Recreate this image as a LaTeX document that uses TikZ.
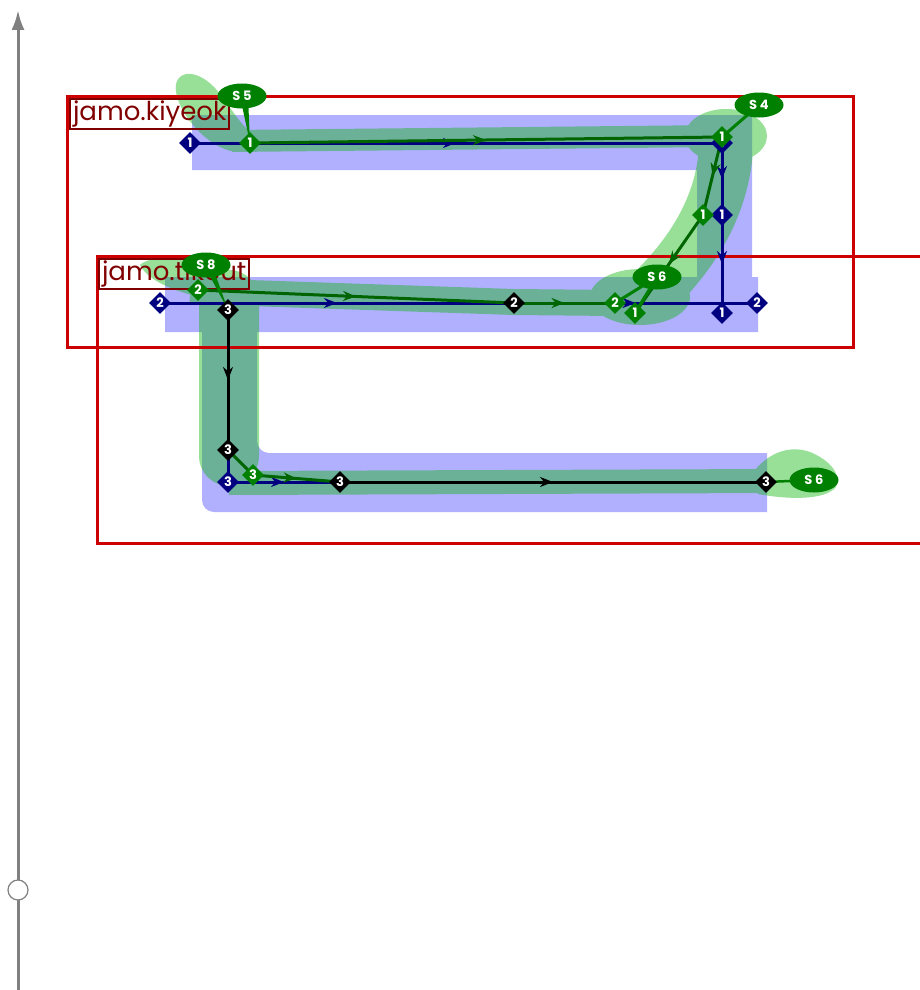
\documentclass[tikz,border=0pt]{standalone}
\usepackage{fontspec}
\setmainfont{Poppins}
\usetikzlibrary{arrows.meta,decorations.markings,shapes.geometric}
\definecolor{bandblue}{RGB}{176,176,255}
\definecolor{bandgreen}{RGB}{10,180,10}
\definecolor{navy}{RGB}{0,0,128}
\definecolor{lgreen}{RGB}{0,100,0}
\definecolor{sgreen}{RGB}{0,128,0}
\definecolor{boxred}{RGB}{204,0,0}
\definecolor{labred}{RGB}{128,0,0}
\definecolor{axisgray}{RGB}{128,128,128}
\pgfdeclarelayer{bands}
\pgfdeclarelayer{lines}
\pgfsetlayers{bands,lines,main}
\tikzset{
  dia/.style={diamond, aspect=1, minimum size=22pt, inner sep=0pt, text=white,
    font=\fontsize{13}{13}\selectfont\bfseries},
  bdia/.style={dia, fill=navy},
  gdia/.style={dia, fill=sgreen},
  kdia/.style={dia, fill=black},
  slab/.style={ellipse, fill=sgreen, minimum width=49pt, minimum height=25pt,
    inner sep=0pt, text=white, font=\fontsize{13}{13}\selectfont\bfseries},
  labbox/.style={draw=labred, line width=2pt, text=labred, anchor=north west,
    minimum height=30pt, inner xsep=3pt, inner ysep=0pt,
    font=\fontsize{26}{26}\selectfont},
  regbox/.style={draw=boxred, line width=3pt},
  conn/.style={line width=3pt},
  midarrow/.style={postaction={decorate}, decoration={markings,
    mark=at position 0.5 with {\arrow{Stealth[length=13pt,width=10pt]}}}},
}
\begin{document}
\begin{tikzpicture}[x=1pt,y=-1pt]
\useasboundingbox (0,0) rectangle (920,990);

% ---- nodes ----
\node[bdia] (b1a) at (190,143) {1};
\node[bdia] (b1b) at (722,143) {1};
\node[gdia] (g1a) at (250,143) {1};
\node[gdia] (g1b) at (722,137) {1};
\node[bdia] (b1c) at (722,215) {1};
\node[gdia] (g1c) at (703,215) {1};
\node[bdia] (b1d) at (722,313) {1};
\node[bdia] (b2b) at (757,303) {2};
\node[gdia] (g1d) at (635,313) {1};
\node[gdia] (g2b) at (615,303) {2};
\node[kdia] (k2) at (514,303) {2};
\node[bdia] (b2a) at (160,303) {2};
\node[gdia] (g2a) at (198,290) {2};
\node[kdia] (k3a) at (228,310) {3};
\node[bdia] (b3) at (228,482) {3};
\node[kdia] (k3b) at (228,450) {3};
\node[gdia] (g3) at (253,475) {3};
\node[kdia] (k3c) at (340,482) {3};
\node[kdia] (k3d) at (766,482) {3};

\node[slab] (s5) at (242,96) {S 5};
\node[slab] (s4) at (759,105) {S 4};
\node[slab] (s6a) at (657,277) {S 6};
\node[slab] (s8) at (206,265) {S 8};
\node[slab] (s6b) at (814,480) {S 6};

% ---- axis ----
\coordinate (axbot) at (18,990);
\coordinate (axtop) at (18,10);
\draw[axisgray, line width=3pt, -{Latex[length=20pt,width=13pt]}] (axbot) -- (axtop);
\node[circle, draw=axisgray, fill=white, line width=1.2pt, minimum size=20pt, inner sep=0pt] (knob) at (18,890) {};

% ---- bands ----
\begin{pgfonlayer}{bands}
\fill[bandblue] (192,115) -- (752,115) -- (752,322) -- (697,322) -- (697,170) -- (192,170) -- cycle;
\fill[bandblue] (165,277) -- (758,277) -- (758,332) -- (257,332)
  [rounded corners=12pt] -- (257,453) [sharp corners] -- (767,453) -- (767,512)
  [rounded corners=12pt] -- (202,512) [sharp corners] -- (202,332) -- (165,332) -- cycle;
\begin{scope}[transparency group, opacity=0.42]
\fill[bandgreen] (238,152) .. controls (205,150) and (172,105) .. (176,84)
  .. controls (180,68) and (200,72) .. (215,88) .. controls (228,103) and (240,125) .. (252,133) -- cycle;
\draw[bandgreen, line width=22pt] (232,141) -- (722,136);
\fill[bandgreen] (726,136) ellipse [x radius=41pt, y radius=27pt];
\draw[bandgreen, line width=54pt, line cap=round] (726,150) .. controls (722,200) and (700,245) .. (655,290);
\fill[bandgreen] (640,297) ellipse [x radius=50pt, y radius=28pt];
\fill[bandgreen] (140,265) .. controls (150,255) and (185,256) .. (210,268) -- (215,300)
  .. controls (190,296) and (150,285) .. (140,265) -- cycle;
\draw[bandgreen, line width=26pt] (190,291) -- (514,302) -- (615,303);
\draw[bandgreen, line width=60pt, line cap=round] (229,300) -- (229,456);
\draw[bandgreen, line width=24pt] (229,483) -- (775,481);
\fill[bandgreen] (755,470) .. controls (770,452) and (790,445) .. (810,452)
  .. controls (830,460) and (842,475) .. (836,487) .. controls (826,500) and (790,500) .. (758,494) -- cycle;
\end{scope}
\end{pgfonlayer}

% ---- boxes, labels, connectors ----
\begin{pgfonlayer}{lines}
\draw[regbox] (67,96) rectangle (853,347);
\draw[regbox] (97,256) rectangle (935,543);
\node[labbox] (lk) at (69,98) {jamo.kiyeok};
\node[labbox] (lt) at (98,258) {jamo.tikeut};

% navy
\draw[navy, conn, midarrow] (b1a.center) -- (b1b.center);
\draw[navy, conn, midarrow] (b1b.center) -- (b1c.center);
\draw[navy, conn, midarrow] (b1c.center) -- (b1d.center);
\draw[navy, conn, midarrow] (b2a.center) -- (k2.center);
\draw[navy, conn, midarrow] (k2.center) -- (b2b.center);
\draw[navy, conn] (k3b.center) -- (b3.center);
\draw[navy, conn, midarrow] (b3.center) -- (k3c.center);
% green
\draw[lgreen, conn, midarrow] (g1a.center) -- (g1b.center);
\draw[lgreen, conn, midarrow] (g1b.center) -- (g1c.center);
\draw[lgreen, conn, midarrow] (g1c.center) -- (g1d.center);
\draw[lgreen, conn, midarrow] (g2a.center) -- (k2.center);
\draw[lgreen, conn, midarrow] (k2.center) -- (g2b.center);
\draw[lgreen, conn] (k3b.center) -- (g3.center);
\draw[lgreen, conn, midarrow] (g3.center) -- (k3c.center);
% black
\draw[black, conn, midarrow] (k3a.center) -- (k3b.center);
\draw[black, conn, midarrow] (k3c.center) -- (k3d.center);
% label pointers
\fill[sgreen] ([xshift=-2pt]s5.center) -- ([xshift=6pt]s5.center) -- (g1a.center) -- cycle;
\fill[sgreen] ([xshift=-2pt]s8.center) -- ([xshift=6pt]s8.center) -- (k3a.center) -- cycle;
\draw[sgreen, line width=3pt] (s4.center) -- (g1b.center);
\draw[sgreen, line width=3pt] (s6a.center) -- (g2b.center);
\draw[sgreen, line width=3pt] (s6a.center) -- (g1d.center);
\draw[sgreen, line width=2.5pt] (s6b.center) -- (k3d.center);
\end{pgfonlayer}
\end{tikzpicture}
\end{document}
